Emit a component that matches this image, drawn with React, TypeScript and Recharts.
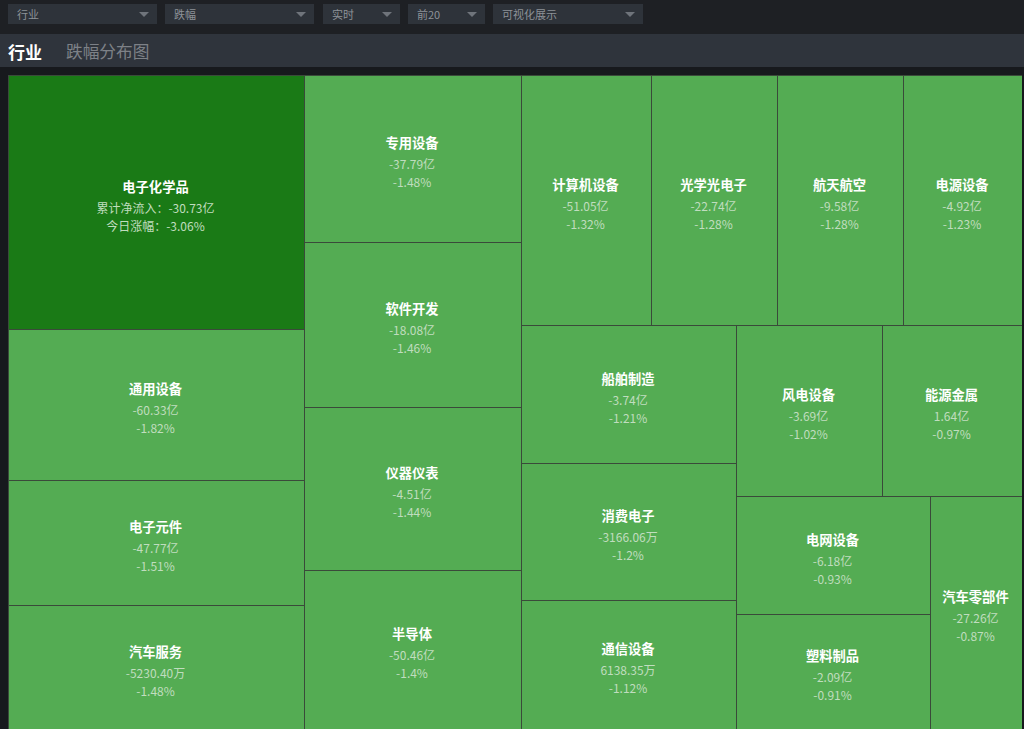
import React from "react";
import { Treemap } from "recharts";

const names = ["电子化学品","通用设备","电子元件","汽车服务","专用设备","软件开发","仪器仪表","半导体","计算机设备","光学光电子","航天航空","电源设备","船舶制造","消费电子","通信设备","风电设备","能源金属","电网设备","塑料制品","汽车零部件"];
const flows = ["-30.73亿","-60.33亿","-47.77亿","-5230.40万","-37.79亿","-18.08亿","-4.51亿","-50.46亿","-51.05亿","-22.74亿","-9.58亿","-4.92亿","-3.74亿","-3166.06万","6138.35万","-3.69亿","1.64亿","-6.18亿","-2.09亿","-27.26亿"];
const pctLabels = ["-3.06%","-1.82%","-1.51%","-1.48%","-1.48%","-1.46%","-1.44%","-1.4%","-1.32%","-1.28%","-1.28%","-1.23%","-1.21%","-1.2%","-1.12%","-1.02%","-0.97%","-0.93%","-0.91%","-0.87%"];
const declines = [3.06,1.82,1.51,1.48,1.48,1.46,1.44,1.4,1.32,1.28,1.28,1.23,1.21,1.2,1.12,1.02,0.97,0.93,0.91,0.87];

const selects = [
  { label: "行业", left: 8, width: 149 },
  { label: "跌幅", left: 165, width: 149 },
  { label: "实时", left: 323, width: 77 },
  { label: "前20", left: 408, width: 77 },
  { label: "可视化展示", left: 493, width: 150 },
];

const FONT = '"Noto Sans CJK SC", "Noto Sans", sans-serif';
const CHART_W = 1014;
const CHART_H = 653.6;
const treeData = names.map((name, i) => ({ name, size: declines[i], flow: flows[i], pct: pctLabels[i], rank: i }));

function Tile(props: any) {
  const { x, y, width, height, name, flow, pct, rank } = props;
  if (!name || width === undefined || flow === undefined) return null;
  const first = rank === 0;
  const cx = x + width / 2 - 0.5;
  const cy = y + height / 2 + 0.5;
  // tiles touching the bottom run past the page edge, so their lower border is not seen
  const drawnH = y + height >= CHART_H - 1 ? height + 3 : height;
  return (
    <g>
      <rect x={x} y={y} width={width} height={drawnH} transform="translate(0.5 0.5)" fill={first ? "#1a7a16" : "#54ac53"} stroke="#3a4a3a" strokeWidth={1} shapeRendering="crispEdges" />
      <text x={cx} y={cy - 16} textAnchor="middle" dominantBaseline="central" fill="#ffffff" fontSize={13.3} fontWeight={700} fontFamily={FONT}>{name}</text>
      <text x={cx} y={cy + 5} textAnchor="middle" dominantBaseline="central" fill="#c0ddbf" fontSize={12} fontFamily={FONT}>{first ? `累计净流入：${flow}` : flow}</text>
      <text x={cx} y={cy + 23} textAnchor="middle" dominantBaseline="central" fill="#c0ddbf" fontSize={12} fontFamily={FONT}>{first ? `今日涨幅：${pct}` : pct}</text>
    </g>
  );
}

export default function App() {
  return (
    <div style={{ position: "fixed", left: 0, top: 0, width: 1024, height: 729, overflow: "hidden", background: "#17191d", fontFamily: FONT }}>
      <div style={{ position: "absolute", left: 0, top: 0, width: 1024, height: 34, background: "#1e2024" }} />
      {selects.map((s) => (
        <div key={s.label} style={{ position: "absolute", left: s.left, top: 4, width: s.width, height: 20, background: "#2e333a", color: "#8d9298", fontSize: 11, lineHeight: "20px" }}>
          <span style={{ position: "absolute", left: 9 }}>{s.label}</span>
          <span style={{ position: "absolute", right: 8, top: 8, width: 0, height: 0, borderLeft: "5px solid transparent", borderRight: "5px solid transparent", borderTop: "5px solid #6f747b" }} />
        </div>
      ))}
      <div style={{ position: "absolute", left: 0, top: 34, width: 1024, height: 33, background: "#2f343c" }}>
        <span style={{ position: "absolute", left: 8, top: 0, lineHeight: "35px", fontSize: 17, fontWeight: 700, color: "#ffffff" }}>行业</span>
        <span style={{ position: "absolute", left: 66, top: 0, lineHeight: "35px", fontSize: 16.7, color: "#7d8187" }}>跌幅分布图</span>
      </div>
      <div style={{ position: "absolute", left: 8, top: 75 }}>
        <Treemap
          width={CHART_W}
          height={CHART_H}
          data={treeData}
          dataKey="size"
          nameKey="name"
          type="flat"
          isAnimationActive={false}
          content={<Tile />}
          style={{ overflow: "visible" }}
        />
      </div>
    </div>
  );
}
